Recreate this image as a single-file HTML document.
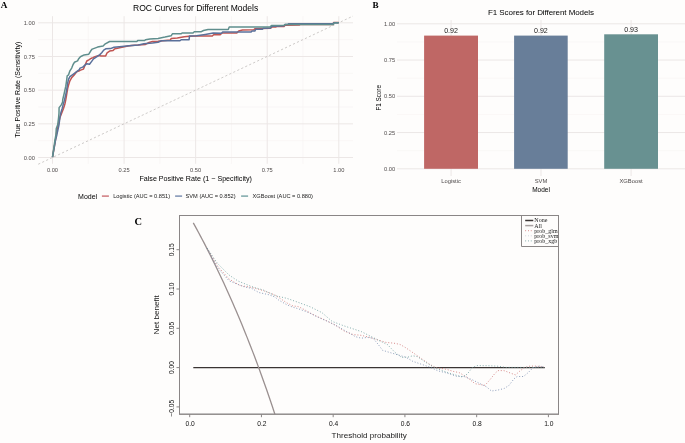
<!DOCTYPE html>
<html><head><meta charset="utf-8"><style>
html,body{margin:0;padding:0;background:#fefdfc;}
svg{display:block;will-change:transform;}
</style></head><body>
<svg width="685" height="443" viewBox="0 0 685 443">
<rect x="0" y="0" width="685" height="443" fill="#fefdfc"/>
<line x1="88.29" y1="16.20" x2="88.29" y2="163.80" stroke="#f6f3f2" stroke-width="0.6"/>
<line x1="38.20" y1="140.66" x2="353.00" y2="140.66" stroke="#f6f3f2" stroke-width="0.6"/>
<line x1="159.86" y1="16.20" x2="159.86" y2="163.80" stroke="#f6f3f2" stroke-width="0.6"/>
<line x1="38.20" y1="106.99" x2="353.00" y2="106.99" stroke="#f6f3f2" stroke-width="0.6"/>
<line x1="231.44" y1="16.20" x2="231.44" y2="163.80" stroke="#f6f3f2" stroke-width="0.6"/>
<line x1="38.20" y1="73.31" x2="353.00" y2="73.31" stroke="#f6f3f2" stroke-width="0.6"/>
<line x1="303.01" y1="16.20" x2="303.01" y2="163.80" stroke="#f6f3f2" stroke-width="0.6"/>
<line x1="38.20" y1="39.64" x2="353.00" y2="39.64" stroke="#f6f3f2" stroke-width="0.6"/>
<line x1="52.50" y1="16.20" x2="52.50" y2="163.80" stroke="#ece7e6" stroke-width="1.0"/>
<line x1="38.20" y1="157.50" x2="353.00" y2="157.50" stroke="#ece7e6" stroke-width="1.0"/>
<line x1="124.08" y1="16.20" x2="124.08" y2="163.80" stroke="#ece7e6" stroke-width="1.0"/>
<line x1="38.20" y1="123.83" x2="353.00" y2="123.83" stroke="#ece7e6" stroke-width="1.0"/>
<line x1="195.65" y1="16.20" x2="195.65" y2="163.80" stroke="#ece7e6" stroke-width="1.0"/>
<line x1="38.20" y1="90.15" x2="353.00" y2="90.15" stroke="#ece7e6" stroke-width="1.0"/>
<line x1="267.23" y1="16.20" x2="267.23" y2="163.80" stroke="#ece7e6" stroke-width="1.0"/>
<line x1="38.20" y1="56.48" x2="353.00" y2="56.48" stroke="#ece7e6" stroke-width="1.0"/>
<line x1="338.80" y1="16.20" x2="338.80" y2="163.80" stroke="#ece7e6" stroke-width="1.0"/>
<line x1="38.20" y1="22.80" x2="353.00" y2="22.80" stroke="#ece7e6" stroke-width="1.0"/>
<line x1="38.20" y1="164.24" x2="353.00" y2="16.06" stroke="#b9b4b3" stroke-width="0.7" stroke-dasharray="2.2,2.2"/>
<polyline points="52.50,157.20 55.40,140.30 57.00,130.00 58.80,122.40 59.90,117.60 63.50,108.50 64.90,104.00 65.80,99.70 66.70,94.30 67.60,88.90 68.50,85.30 69.90,80.80 71.70,77.60 74.00,75.30 76.70,71.70 79.40,70.80 80.00,70.40 83.40,69.10 85.40,64.30 86.80,61.00 88.80,59.90 91.50,58.20 92.90,57.60 94.90,56.60 99.00,55.50 101.00,55.90 105.70,55.90 107.10,52.80 109.60,51.10 113.10,50.40 114.90,48.80 117.50,48.20 121.90,47.30 128.00,46.00 131.50,45.40 137.70,45.10 145.50,44.40 149.00,42.50 152.50,41.50 158.00,41.30 170.30,40.10 171.10,38.60 177.30,38.00 184.30,36.80 189.10,36.20 196.50,36.00 212.30,36.00 213.60,34.70 220.20,34.70 222.10,33.00 236.80,33.00 238.70,30.90 242.50,30.00 253.90,29.70 254.80,28.80 262.40,28.50 270.50,28.30 271.90,27.10 275.70,27.10 277.10,26.40 284.00,26.40 285.00,25.20 299.60,25.00 300.50,24.40 333.00,24.40 333.60,22.50 338.80,22.60" fill="none" stroke="#c05552" stroke-width="1.5" stroke-linejoin="round" stroke-linecap="butt"/>
<polyline points="52.50,157.20 55.50,140.30 56.90,134.70 59.00,124.80 59.90,117.60 60.80,113.00 62.20,108.50 63.10,104.90 64.40,100.40 65.80,94.30 66.70,89.80 67.60,83.50 68.50,79.40 69.90,76.70 73.10,74.40 76.70,71.70 79.40,69.50 80.00,68.10 82.70,67.10 84.70,65.40 86.80,63.70 89.50,64.30 91.50,61.60 93.50,58.90 96.20,57.20 99.60,54.90 101.70,52.80 103.70,50.10 105.70,48.80 110.50,48.60 114.00,47.30 121.90,46.50 128.90,45.80 138.50,45.00 143.80,43.80 152.50,43.00 158.00,42.30 161.50,40.80 179.90,40.80 181.20,39.70 189.10,39.70 189.50,35.90 196.50,35.80 205.30,34.40 213.20,33.10 221.60,33.20 222.60,32.10 251.10,32.10 252.00,31.10 254.80,31.10 255.80,29.20 262.40,29.20 263.40,28.30 270.50,28.10 271.90,26.20 280.00,25.90 284.00,25.70 285.00,24.60 288.00,24.50 288.50,23.70 333.00,23.70 334.00,22.80 338.80,22.70" fill="none" stroke="#5a709a" stroke-width="1.5" stroke-linejoin="round" stroke-linecap="butt"/>
<polyline points="52.50,157.20 54.90,140.30 55.90,135.00 56.30,128.40 57.70,124.80 58.60,117.60 59.00,113.00 59.10,107.60 61.30,104.90 62.60,102.20 62.70,99.70 64.00,94.30 65.80,86.20 66.70,79.90 67.20,75.80 68.50,74.90 69.90,70.80 71.70,68.10 73.10,64.50 74.40,62.30 77.60,60.90 78.50,59.00 80.00,57.20 81.40,56.20 84.10,54.90 88.80,54.20 90.80,50.80 92.20,49.10 94.90,48.10 97.60,47.10 100.30,46.40 103.10,46.00 105.30,43.80 109.60,41.50 136.80,41.50 137.70,40.60 144.70,40.60 145.50,39.70 149.90,39.00 158.00,38.40 165.00,37.10 171.10,35.80 172.40,33.80 181.20,33.80 182.10,33.00 193.00,33.00 194.30,31.80 200.90,31.80 203.50,30.50 208.00,29.60 228.30,29.40 229.20,27.10 270.00,27.10 271.50,25.40 284.00,25.30 285.00,24.60 300.00,24.60 301.00,24.50 333.00,24.50 334.00,23.00 338.80,22.80" fill="none" stroke="#5f8e8d" stroke-width="1.5" stroke-linejoin="round" stroke-linecap="butt"/>
<text x="34.90" y="159.55" style="font-family:'Liberation Sans',sans-serif;font-size:5.7px;font-weight:normal" fill="#4f4b4b" text-anchor="end">0.00</text>
<text x="52.50" y="171.60" style="font-family:'Liberation Sans',sans-serif;font-size:5.7px;font-weight:normal" fill="#4f4b4b" text-anchor="middle">0.00</text>
<text x="34.90" y="125.88" style="font-family:'Liberation Sans',sans-serif;font-size:5.7px;font-weight:normal" fill="#4f4b4b" text-anchor="end">0.25</text>
<text x="124.08" y="171.60" style="font-family:'Liberation Sans',sans-serif;font-size:5.7px;font-weight:normal" fill="#4f4b4b" text-anchor="middle">0.25</text>
<text x="34.90" y="92.20" style="font-family:'Liberation Sans',sans-serif;font-size:5.7px;font-weight:normal" fill="#4f4b4b" text-anchor="end">0.50</text>
<text x="195.65" y="171.60" style="font-family:'Liberation Sans',sans-serif;font-size:5.7px;font-weight:normal" fill="#4f4b4b" text-anchor="middle">0.50</text>
<text x="34.90" y="58.53" style="font-family:'Liberation Sans',sans-serif;font-size:5.7px;font-weight:normal" fill="#4f4b4b" text-anchor="end">0.75</text>
<text x="267.23" y="171.60" style="font-family:'Liberation Sans',sans-serif;font-size:5.7px;font-weight:normal" fill="#4f4b4b" text-anchor="middle">0.75</text>
<text x="34.90" y="24.85" style="font-family:'Liberation Sans',sans-serif;font-size:5.7px;font-weight:normal" fill="#4f4b4b" text-anchor="end">1.00</text>
<text x="338.80" y="171.60" style="font-family:'Liberation Sans',sans-serif;font-size:5.7px;font-weight:normal" fill="#4f4b4b" text-anchor="middle">1.00</text>
<text x="195.65" y="10.90" style="font-family:'Liberation Sans',sans-serif;font-size:8.55px;font-weight:normal" fill="#000" text-anchor="middle">ROC Curves for Different Models</text>
<text x="195.65" y="180.50" style="font-family:'Liberation Sans',sans-serif;font-size:7.15px;font-weight:normal" fill="#000" text-anchor="middle">False Positive Rate (1 − Specificity)</text>
<text x="20.10" y="89.70" style="font-family:'Liberation Sans',sans-serif;font-size:7.05px;font-weight:normal" fill="#000" text-anchor="middle" transform="rotate(-90 20.10 89.70)">True Positive Rate (Sensitivity)</text>
<text x="0.80" y="8.30" style="font-family:'Liberation Serif',serif;font-size:9.2px;font-weight:bold" fill="#000" text-anchor="start">A</text>
<text x="78.10" y="199.00" style="font-family:'Liberation Sans',sans-serif;font-size:7.0px;font-weight:normal" fill="#000" text-anchor="start">Model</text>
<line x1="101.90" y1="196.10" x2="108.90" y2="196.10" stroke="#cb6f73" stroke-width="1.4"/>
<text x="113.20" y="198.20" style="font-family:'Liberation Sans',sans-serif;font-size:5.65px;font-weight:normal" fill="#1a1a1a" text-anchor="start">Logistic (AUC = 0.851)</text>
<line x1="175.10" y1="196.10" x2="182.10" y2="196.10" stroke="#7489ad" stroke-width="1.4"/>
<text x="185.60" y="198.20" style="font-family:'Liberation Sans',sans-serif;font-size:5.65px;font-weight:normal" fill="#1a1a1a" text-anchor="start">SVM (AUC = 0.852)</text>
<line x1="241.10" y1="196.10" x2="248.10" y2="196.10" stroke="#72a0a2" stroke-width="1.4"/>
<text x="252.60" y="198.20" style="font-family:'Liberation Sans',sans-serif;font-size:5.65px;font-weight:normal" fill="#1a1a1a" text-anchor="start">XGBoost (AUC = 0.880)</text>
<line x1="397.00" y1="150.68" x2="685.00" y2="150.68" stroke="#f6f3f2" stroke-width="0.6"/>
<line x1="397.00" y1="114.43" x2="685.00" y2="114.43" stroke="#f6f3f2" stroke-width="0.6"/>
<line x1="397.00" y1="78.18" x2="685.00" y2="78.18" stroke="#f6f3f2" stroke-width="0.6"/>
<line x1="397.00" y1="41.93" x2="685.00" y2="41.93" stroke="#f6f3f2" stroke-width="0.6"/>
<line x1="397.00" y1="168.80" x2="685.00" y2="168.80" stroke="#ece7e6" stroke-width="1.0"/>
<line x1="397.00" y1="132.55" x2="685.00" y2="132.55" stroke="#ece7e6" stroke-width="1.0"/>
<line x1="397.00" y1="96.30" x2="685.00" y2="96.30" stroke="#ece7e6" stroke-width="1.0"/>
<line x1="397.00" y1="60.05" x2="685.00" y2="60.05" stroke="#ece7e6" stroke-width="1.0"/>
<line x1="397.00" y1="23.80" x2="685.00" y2="23.80" stroke="#ece7e6" stroke-width="1.0"/>
<line x1="451.10" y1="20.10" x2="451.10" y2="176.00" stroke="#ece7e6" stroke-width="1.0"/>
<line x1="541.00" y1="20.10" x2="541.00" y2="176.00" stroke="#ece7e6" stroke-width="1.0"/>
<line x1="631.10" y1="20.10" x2="631.10" y2="176.00" stroke="#ece7e6" stroke-width="1.0"/>
<rect x="424.1" y="35.6" width="53.90" height="133.20" fill="#bf6765"/>
<text x="451.05" y="33.20" style="font-family:'Liberation Sans',sans-serif;font-size:7.1px;font-weight:normal" fill="#1a1a1a" text-anchor="middle">0.92</text>
<rect x="514.1" y="35.6" width="53.60" height="133.20" fill="#687e99"/>
<text x="540.90" y="33.20" style="font-family:'Liberation Sans',sans-serif;font-size:7.1px;font-weight:normal" fill="#1a1a1a" text-anchor="middle">0.92</text>
<rect x="604.2" y="34.3" width="53.80" height="134.50" fill="#689191"/>
<text x="631.10" y="31.90" style="font-family:'Liberation Sans',sans-serif;font-size:7.1px;font-weight:normal" fill="#1a1a1a" text-anchor="middle">0.93</text>
<text x="395.20" y="170.85" style="font-family:'Liberation Sans',sans-serif;font-size:5.7px;font-weight:normal" fill="#4f4b4b" text-anchor="end">0.00</text>
<text x="395.20" y="134.60" style="font-family:'Liberation Sans',sans-serif;font-size:5.7px;font-weight:normal" fill="#4f4b4b" text-anchor="end">0.25</text>
<text x="395.20" y="98.35" style="font-family:'Liberation Sans',sans-serif;font-size:5.7px;font-weight:normal" fill="#4f4b4b" text-anchor="end">0.50</text>
<text x="395.20" y="62.10" style="font-family:'Liberation Sans',sans-serif;font-size:5.7px;font-weight:normal" fill="#4f4b4b" text-anchor="end">0.75</text>
<text x="395.20" y="25.85" style="font-family:'Liberation Sans',sans-serif;font-size:5.7px;font-weight:normal" fill="#4f4b4b" text-anchor="end">1.00</text>
<text x="451.10" y="183.30" style="font-family:'Liberation Sans',sans-serif;font-size:5.8px;font-weight:normal" fill="#4f4b4b" text-anchor="middle">Logistic</text>
<text x="541.00" y="183.30" style="font-family:'Liberation Sans',sans-serif;font-size:5.8px;font-weight:normal" fill="#4f4b4b" text-anchor="middle">SVM</text>
<text x="631.10" y="183.30" style="font-family:'Liberation Sans',sans-serif;font-size:5.8px;font-weight:normal" fill="#4f4b4b" text-anchor="middle">XGBoost</text>
<text x="541.00" y="191.90" style="font-family:'Liberation Sans',sans-serif;font-size:6.5px;font-weight:normal" fill="#000" text-anchor="middle">Model</text>
<text x="380.60" y="97.80" style="font-family:'Liberation Sans',sans-serif;font-size:6.3px;font-weight:normal" fill="#000" text-anchor="middle" transform="rotate(-90 380.60 97.80)">F1 Score</text>
<text x="541.00" y="15.10" style="font-family:'Liberation Sans',sans-serif;font-size:8.0px;font-weight:normal" fill="#000" text-anchor="middle" letter-spacing="-0.08">F1 Scores for Different Models</text>
<text x="372.60" y="8.20" style="font-family:'Liberation Serif',serif;font-size:9.2px;font-weight:bold" fill="#000" text-anchor="start">B</text>
<rect x="179.5" y="215.5" width="379.00" height="198.70" fill="none" stroke="#8a8686" stroke-width="1"/>
<line x1="189.70" y1="414.20" x2="189.70" y2="417.20" stroke="#8a8686" stroke-width="1"/>
<text x="190.10" y="425.90" style="font-family:'Liberation Sans',sans-serif;font-size:6.7px;font-weight:normal" fill="#111" text-anchor="middle">0.0</text>
<line x1="261.44" y1="414.20" x2="261.44" y2="417.20" stroke="#8a8686" stroke-width="1"/>
<text x="261.84" y="425.90" style="font-family:'Liberation Sans',sans-serif;font-size:6.7px;font-weight:normal" fill="#111" text-anchor="middle">0.2</text>
<line x1="333.18" y1="414.20" x2="333.18" y2="417.20" stroke="#8a8686" stroke-width="1"/>
<text x="333.58" y="425.90" style="font-family:'Liberation Sans',sans-serif;font-size:6.7px;font-weight:normal" fill="#111" text-anchor="middle">0.4</text>
<line x1="404.92" y1="414.20" x2="404.92" y2="417.20" stroke="#8a8686" stroke-width="1"/>
<text x="405.32" y="425.90" style="font-family:'Liberation Sans',sans-serif;font-size:6.7px;font-weight:normal" fill="#111" text-anchor="middle">0.6</text>
<line x1="476.66" y1="414.20" x2="476.66" y2="417.20" stroke="#8a8686" stroke-width="1"/>
<text x="477.06" y="425.90" style="font-family:'Liberation Sans',sans-serif;font-size:6.7px;font-weight:normal" fill="#111" text-anchor="middle">0.8</text>
<line x1="548.40" y1="414.20" x2="548.40" y2="417.20" stroke="#8a8686" stroke-width="1"/>
<text x="548.80" y="425.90" style="font-family:'Liberation Sans',sans-serif;font-size:6.7px;font-weight:normal" fill="#111" text-anchor="middle">1.0</text>
<line x1="176.50" y1="406.90" x2="179.50" y2="406.90" stroke="#8a8686" stroke-width="1"/>
<text x="173.60" y="408.20" style="font-family:'Liberation Sans',sans-serif;font-size:6.6px;font-weight:normal" fill="#111" text-anchor="middle" transform="rotate(-90 173.60 408.20)">−0.05</text>
<line x1="176.50" y1="367.60" x2="179.50" y2="367.60" stroke="#8a8686" stroke-width="1"/>
<text x="173.60" y="367.60" style="font-family:'Liberation Sans',sans-serif;font-size:6.6px;font-weight:normal" fill="#111" text-anchor="middle" transform="rotate(-90 173.60 367.60)">0.00</text>
<line x1="176.50" y1="328.30" x2="179.50" y2="328.30" stroke="#8a8686" stroke-width="1"/>
<text x="173.60" y="328.30" style="font-family:'Liberation Sans',sans-serif;font-size:6.6px;font-weight:normal" fill="#111" text-anchor="middle" transform="rotate(-90 173.60 328.30)">0.05</text>
<line x1="176.50" y1="289.00" x2="179.50" y2="289.00" stroke="#8a8686" stroke-width="1"/>
<text x="173.60" y="289.00" style="font-family:'Liberation Sans',sans-serif;font-size:6.6px;font-weight:normal" fill="#111" text-anchor="middle" transform="rotate(-90 173.60 289.00)">0.10</text>
<line x1="176.50" y1="249.70" x2="179.50" y2="249.70" stroke="#8a8686" stroke-width="1"/>
<text x="173.60" y="249.70" style="font-family:'Liberation Sans',sans-serif;font-size:6.6px;font-weight:normal" fill="#111" text-anchor="middle" transform="rotate(-90 173.60 249.70)">0.15</text>
<text x="369.15" y="438.10" style="font-family:'Liberation Sans',sans-serif;font-size:8.1px;font-weight:normal" fill="#1a1a1a" text-anchor="middle">Threshold probability</text>
<text x="159.50" y="314.85" style="font-family:'Liberation Sans',sans-serif;font-size:8.1px;font-weight:normal" fill="#1a1a1a" text-anchor="middle" transform="rotate(-90 159.50 314.85)">Net benefit</text>
<text x="134.40" y="225.30" style="font-family:'Liberation Serif',serif;font-size:10.4px;font-weight:bold" fill="#000" text-anchor="start">C</text>
<clipPath id="cc"><rect x="179.5" y="215.5" width="379.00" height="198.70"/></clipPath>
<line x1="193.29" y1="367.60" x2="544.81" y2="367.60" stroke="#3a3433" stroke-width="1.4"/>
<polyline clip-path="url(#cc)" points="193.29,222.86 195.08,226.12 196.87,229.41 198.67,232.73 200.46,236.09 202.25,239.48 204.05,242.90 205.84,246.37 207.63,249.87 209.43,253.40 211.22,256.97 213.02,260.59 214.81,264.24 216.60,267.93 218.40,271.66 220.19,275.43 221.98,279.24 223.78,283.09 225.57,286.99 227.36,290.93 229.16,294.92 230.95,298.95 232.74,303.02 234.54,307.15 236.33,311.32 238.12,315.53 239.92,319.80 241.71,324.12 243.50,328.48 245.30,332.90 247.09,337.38 248.89,341.90 250.68,346.48 252.47,351.12 254.27,355.81 256.06,360.56 257.85,365.37 259.65,370.24 261.44,375.17 263.23,380.16 265.03,385.21 266.82,390.33 268.61,395.51 270.41,400.76 272.20,406.08 273.99,411.47 275.79,416.93 277.58,422.46 279.38,428.07 281.17,433.75" fill="none" stroke="#9a9090" stroke-width="1.3"/>
<polyline points="207.00,248.00 217.50,266.00 229.00,279.00 240.00,285.50 252.00,287.50 263.00,290.50 275.00,295.00 281.00,299.00 287.00,303.00 293.00,306.00 298.00,306.50 304.00,309.40 310.00,312.90 315.00,315.50 325.00,320.00 335.00,325.00 344.00,331.00 353.00,334.50 361.00,335.30 370.00,337.40 378.00,340.00 386.00,342.40 394.00,343.20 400.00,344.40 406.00,347.90 414.00,353.40 422.00,359.00 430.00,364.50 436.00,367.70 446.00,369.20 454.00,371.60 459.00,372.50 467.00,377.30 475.00,383.70 485.00,385.30 490.00,379.70 495.00,373.30 498.00,370.60 504.00,370.60 511.00,373.30 515.50,374.90 520.00,370.90 525.00,367.30 530.00,366.10 536.00,366.10 544.00,366.90" fill="none" stroke="#d07676" stroke-width="0.85" stroke-linejoin="round" stroke-linecap="butt" stroke-dasharray="1,1.9"/>
<polyline points="207.00,248.00 217.50,267.70 229.20,280.90 243.80,286.70 251.70,288.40 258.70,292.50 269.20,294.80 275.00,297.10 278.60,300.00 286.70,304.70 292.60,307.10 298.40,308.80 308.80,312.60 317.50,317.00 329.20,322.10 338.00,326.50 346.70,331.60 355.50,336.70 361.30,338.20 367.20,337.40 373.00,338.20 377.90,344.00 382.60,350.30 390.50,352.70 398.40,355.00 406.30,357.40 412.70,361.30 422.10,364.50 430.00,367.20 437.90,370.80 447.40,373.20 456.90,376.40 464.10,376.50 472.10,379.70 480.10,383.70 486.60,386.90 491.40,391.00 497.80,390.10 504.20,388.50 509.10,385.30 513.90,378.90 517.10,376.50 523.50,376.50 528.30,372.50 533.10,367.70 539.60,366.10 544.40,366.90" fill="none" stroke="#7a8db0" stroke-width="0.85" stroke-linejoin="round" stroke-linecap="butt" stroke-dasharray="1,1.9"/>
<polyline points="207.00,248.00 217.50,263.40 229.00,275.00 238.00,281.00 251.70,286.60 263.40,290.10 275.00,295.60 286.70,298.30 298.40,302.40 310.20,306.80 321.90,312.60 332.10,321.40 343.80,325.80 351.10,328.20 361.30,331.60 370.10,336.00 378.80,340.40 387.60,344.70 395.30,352.70 401.60,357.40 407.90,357.10 412.70,355.80 417.40,356.60 425.30,362.10 433.20,366.90 442.70,370.80 452.10,374.00 462.50,377.00 467.30,374.10 472.10,367.70 477.00,365.60 488.20,365.70 498.00,366.20 506.00,367.40 544.00,367.40" fill="none" stroke="#6e9e9e" stroke-width="0.85" stroke-linejoin="round" stroke-linecap="butt" stroke-dasharray="1,1.9"/>
<rect x="521.5" y="215.5" width="37.00" height="31.00" fill="#fefdfc"/>
<polyline points="521.5,215.5 521.5,246.5 558.5,246.5" fill="none" stroke="#8a8686" stroke-width="1"/>
<rect x="179.5" y="215.5" width="379.00" height="198.70" fill="none" stroke="#8a8686" stroke-width="1"/>
<line x1="525.20" y1="220.50" x2="533.30" y2="220.50" stroke="#3a3433" stroke-width="1.5"/>
<text x="534.30" y="222.40" style="font-family:'Liberation Serif',serif;font-size:6.0px;font-weight:normal" fill="#222" text-anchor="start">None</text>
<line x1="525.20" y1="225.60" x2="533.30" y2="225.60" stroke="#a8a0a0" stroke-width="1.5"/>
<text x="534.30" y="227.50" style="font-family:'Liberation Serif',serif;font-size:6.0px;font-weight:normal" fill="#222" text-anchor="start">All</text>
<line x1="525.20" y1="230.70" x2="533.30" y2="230.70" stroke="#d07676" stroke-width="0.9" stroke-dasharray="0.9,1.9"/>
<text x="534.30" y="232.60" style="font-family:'Liberation Serif',serif;font-size:6.0px;font-weight:normal" fill="#222" text-anchor="start">prob_glm</text>
<line x1="525.20" y1="235.80" x2="533.30" y2="235.80" stroke="#c8ccd8" stroke-width="0.9" stroke-dasharray="0.9,1.9"/>
<text x="534.30" y="237.70" style="font-family:'Liberation Serif',serif;font-size:6.0px;font-weight:normal" fill="#222" text-anchor="start">prob_svm</text>
<line x1="525.20" y1="240.90" x2="533.30" y2="240.90" stroke="#6e9e9e" stroke-width="0.9" stroke-dasharray="0.9,1.9"/>
<text x="534.30" y="242.80" style="font-family:'Liberation Serif',serif;font-size:6.0px;font-weight:normal" fill="#222" text-anchor="start">prob_xgb</text>
</svg>
</body></html>
